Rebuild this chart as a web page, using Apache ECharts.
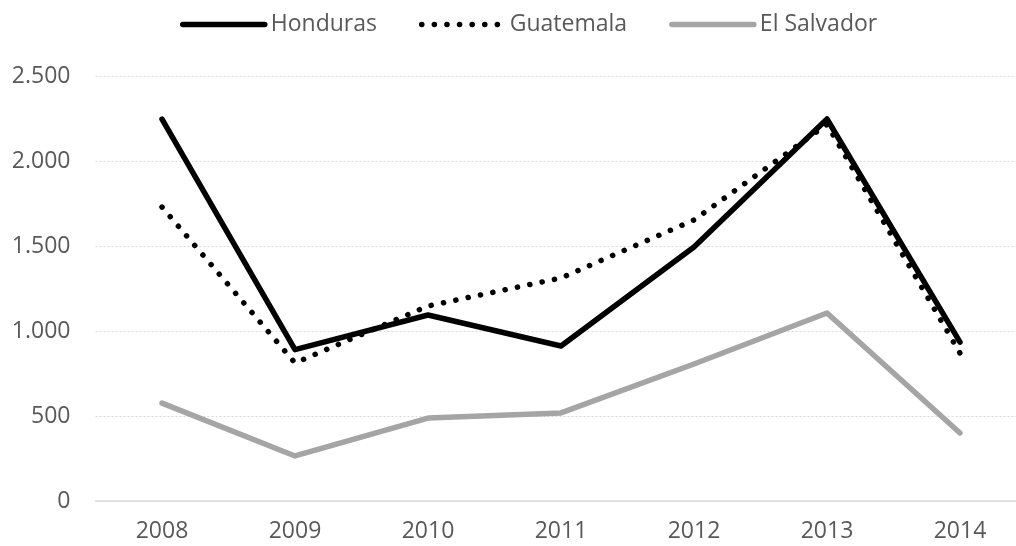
<!DOCTYPE html>
<html>
<head>
<meta charset="utf-8">
<script src="https://cdn.jsdelivr.net/npm/echarts@6/dist/echarts.min.js"></script>
<style>
  html, body { margin: 0; padding: 0; background: #ffffff; overflow: hidden; width: 1016px; height: 546px; }
  #chart { width: 1027px; height: 546px; }
</style>
</head>
<body>
<div id="chart"></div>
<script>
// Years on the horizontal axis
const years = ['2008', '2009', '2010', '2011', '2012', '2013', '2014'];

// Yearly values per country
const honduras = [2247, 890, 1094, 912, 1494, 2247, 935];
const guatemala = [1729, 812, 1147, 1312, 1653, 2215, 870];
const elSalvador = [576, 265, 488, 518, 806, 1106, 400];

const seriesNames = ['Honduras', 'Guatemala', 'El Salvador'];

// Vertical scale
const yMin = 0;
const yMax = 2500;
const yStep = 500;

// Thousands separator with a dot, e.g. 2.500
function fmt(v) {
  return String(v).replace(/\B(?=(\d{3})+(?!\d))/g, '.');
}

const textColor = '#595959';
const fontFamily = '"Open Sans", "Noto Sans", sans-serif';

const chart = echarts.init(document.getElementById('chart'), null, { renderer: 'canvas' });

chart.setOption({
  animation: false,
  backgroundColor: '#ffffff',
  legend: {
    data: seriesNames,
    top: 8,
    left: 175,
    itemWidth: 82,
    itemHeight: 14,
    itemGap: 42,
    itemStyle: { opacity: 0, borderWidth: 0 },
    lineStyle: { width: 5.5, cap: 'round' },
    textStyle: { color: textColor, fontSize: 23, fontFamily: fontFamily, padding: [0, 0, 0, 1] }
  },
  grid: {
    left: 95.5,
    right: 0.5,
    top: 76,
    bottom: 45,
    containLabel: false
  },
  xAxis: {
    type: 'category',
    data: years,
    boundaryGap: true,
    axisLine: { show: true, lineStyle: { color: '#d9d9d9', width: 1.5 } },
    axisTick: { show: false },
    axisLabel: { color: textColor, fontSize: 23, fontFamily: fontFamily, margin: 19 },
    splitLine: { show: false }
  },
  yAxis: {
    type: 'value',
    min: yMin,
    max: yMax,
    interval: yStep,
    axisLine: { show: false },
    axisTick: { show: false },
    axisLabel: { color: textColor, fontSize: 23, fontFamily: fontFamily, margin: 25, formatter: fmt },
    splitLine: { show: true, lineStyle: { color: '#d9d9d9', width: 1, type: [2, 2] } }
  },
  series: [
    {
      name: 'Honduras',
      type: 'line',
      data: honduras,
      symbol: 'none',
      z: 3,
      lineStyle: { color: '#000000', width: 5.5, cap: 'round', join: 'round' },
      itemStyle: { color: '#000000' }
    },
    {
      name: 'Guatemala',
      type: 'line',
      data: guatemala,
      symbol: 'none',
      z: 4,
      lineStyle: { color: '#000000', width: 5.5, type: [0.1, 12.5], cap: 'round', join: 'round' },
      itemStyle: { color: '#000000' }
    },
    {
      name: 'El Salvador',
      type: 'line',
      data: elSalvador,
      symbol: 'none',
      z: 2,
      lineStyle: { color: '#a5a5a5', width: 5.5, cap: 'round', join: 'round' },
      itemStyle: { color: '#a5a5a5' }
    }
  ]
});
</script>
</body>
</html>
